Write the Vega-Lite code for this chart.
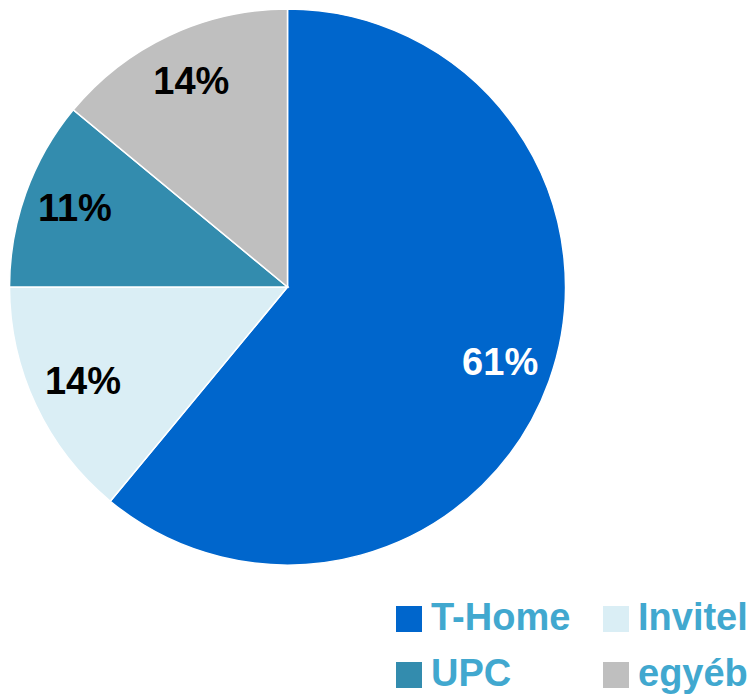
{
  "$schema": "https://vega.github.io/schema/vega-lite/v6.json",
  "width": 575,
  "height": 574,
  "autosize": {"type": "none"},
  "padding": {"left": 0, "top": 0, "right": 177, "bottom": 120},
  "background": "white",
  "data": {
    "values": [
      {"provider": "T-Home", "share": 61, "label": "61%", "order": 1},
      {"provider": "Invitel", "share": 14, "label": "14%", "order": 2},
      {"provider": "UPC", "share": 11, "label": "11%", "order": 3},
      {"provider": "egyéb", "share": 14, "label": "14%", "order": 4}
    ]
  },
  "encoding": {
    "theta": {"field": "share", "type": "quantitative", "stack": true},
    "order": {"field": "order", "type": "quantitative"}
  },
  "layer": [
    {
      "mark": {"type": "arc", "outerRadius": 278, "stroke": "white", "strokeWidth": 1.5},
      "encoding": {
        "color": {
          "field": "provider",
          "type": "nominal",
          "sort": ["T-Home", "Invitel", "UPC", "egyéb"],
          "scale": {
            "domain": ["T-Home", "Invitel", "UPC", "egyéb"],
            "range": ["#0066CC", "#DAEEF5", "#338CAE", "#BFBFBF"]
          },
          "legend": {
            "title": null,
            "orient": "none",
            "legendX": 390,
            "legendY": 600,
            "direction": "horizontal",
            "columns": 2,
            "padding": 0,
            "symbolType": "square",
            "symbolSize": 676,
            "symbolStrokeWidth": 0,
            "labelFont": "Liberation Sans",
            "labelFontWeight": "bold",
            "labelFontSize": 38,
            "labelColor": "#41A8CF",
            "labelOffset": 3,
            "labelLimit": 400,
            "columnPadding": 26,
            "rowPadding": 18
          }
        }
      }
    },
    {
      "mark": {"type": "text", "radius": 226, "font": "Liberation Sans", "fontWeight": "bold", "fontSize": 38},
      "encoding": {
        "text": {"field": "label", "type": "nominal"},
        "color": {
          "condition": {"test": "datum.provider === 'T-Home'", "value": "white"},
          "value": "black"
        }
      }
    }
  ]
}
